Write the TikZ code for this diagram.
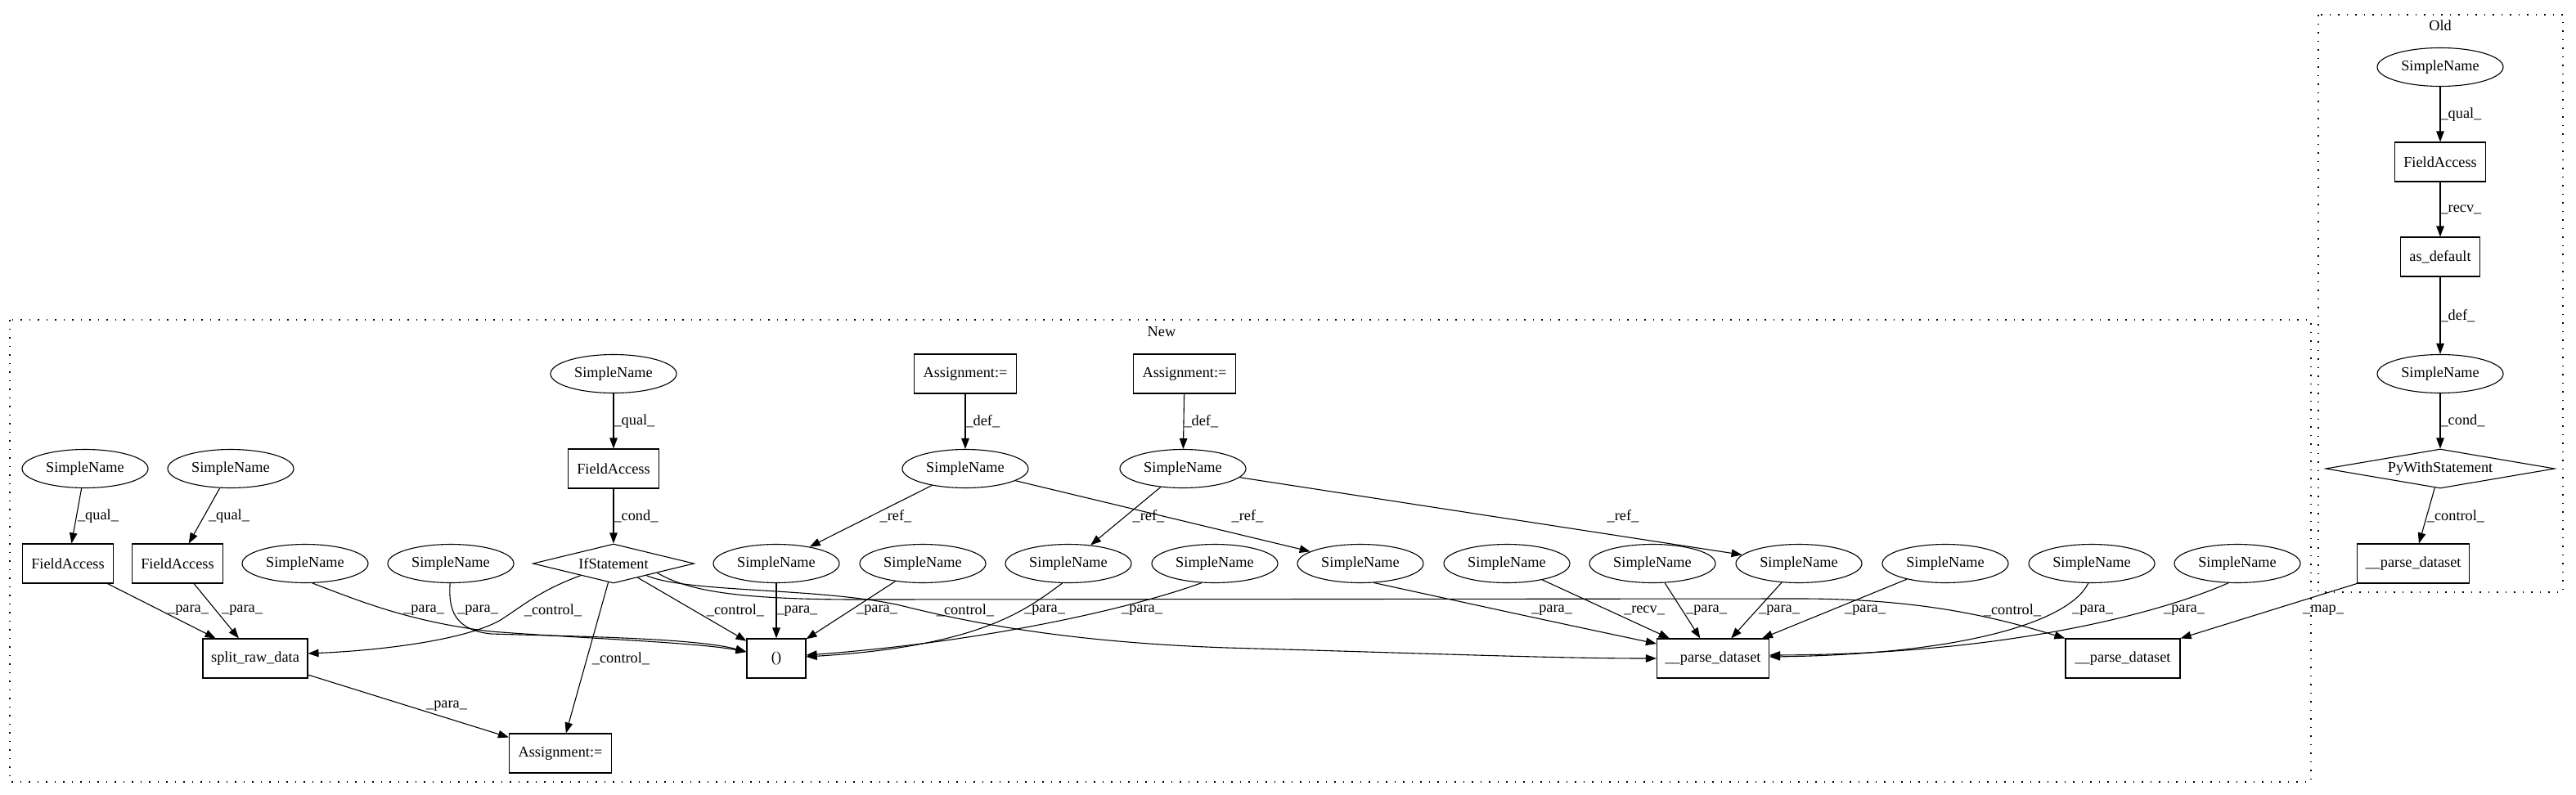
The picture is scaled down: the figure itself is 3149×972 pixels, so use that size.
\documentclass[tikz,border=0pt]{standalone}
\usepackage{fontspec}
\setmainfont{Liberation Serif}
\usetikzlibrary{shapes.geometric,arrows.meta}
\begin{document}
\begin{tikzpicture}[x=1pt,y=-1pt,
  every node/.style={font=\fontsize{18.3}{22}\selectfont},
  sn/.style={draw,ellipse,minimum width=154pt,minimum height=47pt,inner sep=0pt,line width=1.1pt},
  bx/.style={draw,rectangle,minimum height=48pt,inner sep=0pt,line width=1.1pt},
  dm/.style={draw,diamond,inner sep=0pt,minimum height=48pt,line width=1.1pt},
  lbl/.style={inner sep=0pt},
  edge/.style={-{Triangle[length=13pt,width=9.5pt]},line width=1.1pt},
  cluster/.style={line width=1.5pt,dash pattern=on 1.5pt off 9pt}
]
\useasboundingbox (0,0) rectangle (3149,972);
% clusters
\draw[cluster] (12,391) rectangle (2825,956);
\node[lbl] (newlab) at (1420,406) {New};
\draw[cluster] (2834,18) rectangle (3133,724);
\node[lbl] (oldlab) at (2983,31) {Old};

% Old nodes
\node[sn] (o1) at (2983,82) {SimpleName};
\node[bx,minimum width=111pt] (ofa) at (2983,198) {FieldAccess};
\node[bx,minimum width=97pt] (oad) at (2983,314) {as\_default};
\node[sn] (o2) at (2983,457) {SimpleName};
\node[dm,minimum width=280pt,shape aspect=5.8] (opw) at (2983,573) {PyWithStatement};
\node[bx,minimum width=137pt] (opd) at (2950,689) {\_\_parse\_dataset};

% New nodes
\node[sn] (s1) at (104,573) {SimpleName};
\node[sn] (s2) at (282,573) {SimpleName};
\node[bx,minimum width=111pt] (fa1) at (83,689) {FieldAccess};
\node[bx,minimum width=111pt] (fa2) at (217,689) {FieldAccess};
\node[sn] (sa) at (373,689) {SimpleName};
\node[sn] (sb) at (551,689) {SimpleName};
\node[sn] (st) at (750,457) {SimpleName};
\node[bx,minimum width=111pt] (fat) at (750,573) {FieldAccess};
\node[dm,minimum width=197pt,shape aspect=4.1] (if) at (750,689) {IfStatement};
\node[bx,minimum width=128pt] (split) at (312,805) {split\_raw\_data};
\node[bx,minimum width=125pt] (asb) at (685,921) {Assignment:=};
\node[bx,minimum width=125pt] (a1) at (1180,457) {Assignment:=};
\node[bx,minimum width=125pt] (a2) at (1448,457) {Assignment:=};
\node[sn] (d1) at (1180,573) {SimpleName};
\node[sn] (d2) at (1446,573) {SimpleName};
\node[sn] (c) at (949,689) {SimpleName};
\node[sn] (d) at (1128,689) {SimpleName};
\node[sn] (e) at (1306,689) {SimpleName};
\node[sn] (f) at (1485,689) {SimpleName};
\node[sn] (h) at (1663,689) {SimpleName};
\node[sn] (i) at (1842,689) {SimpleName};
\node[sn] (j) at (2020,689) {SimpleName};
\node[sn] (k) at (2199,689) {SimpleName};
\node[sn] (l) at (2378,689) {SimpleName};
\node[sn] (m) at (2557,689) {SimpleName};
\node[sn] (n) at (2735,689) {SimpleName};
\node[bx,minimum width=72pt] (call) at (949,805) {()};
\node[bx,minimum width=137pt] (pd) at (2094,805) {\_\_parse\_dataset};
\node[bx,minimum width=140pt] (pd2) at (2595,805) {\_\_parse\_dataset};

% Old edges
\draw[edge] (o1) -- node[lbl,right]{\_qual\_} (ofa);
\draw[edge] (ofa) -- node[lbl,right]{\_recv\_} (oad);
\draw[edge] (oad) -- node[lbl,right]{\_def\_} (o2);
\draw[edge] (o2) -- node[lbl,right]{\_cond\_} (opw);
\draw[edge] (opw) -- (opd);
\node[lbl] (lb1) at (3002,631) {\_control\_};
\draw[edge] (opd.south west) -- (pd2.north east);
\node[lbl] (lb2) at (2840,746) {\_map\_};

% New edges
\draw[edge] (st) -- node[lbl,right]{\_qual\_} (fat);
\draw[edge] (fat) -- node[lbl,right]{\_cond\_} (if);
\draw[edge] (s1) -- (fa1);
\node[lbl] (lb3) at (120,631) {\_qual\_};
\draw[edge] (s2) -- (fa2);
\node[lbl] (lb4) at (280,631) {\_qual\_};
\draw[edge] (fa1) -- (split);
\node[lbl] (lb5) at (230,746) {\_para\_};
\draw[edge] (fa2) -- (split);
\node[lbl] (lb6) at (296,746) {\_para\_};
\draw[edge] (split) -- (asb);
\node[lbl] (lb7) at (546,863) {\_para\_};
\draw[edge] (if) -- (asb);
\node[lbl] (lb8) at (759,805) {\_control\_};
\draw[edge] (if.-160) .. controls (660,722) and (640,740) .. (612,758) .. controls (570,782) and (470,795) .. ([yshift=6pt]split.east);
\node[lbl] (lb9) at (676,746) {\_control\_};
\draw[edge] (if) -- (call);
\node[lbl] (lb10) at (899,746) {\_control\_};
\draw[edge] (sa.-70) .. controls (440,735) and (500,760) .. (600,772) .. controls (700,780) and (850,785) .. ([yshift=8pt]call.west);
\node[lbl] (lb11) at (518,746) {\_para\_};
\draw[edge] (sb.-92) .. controls (548,745) and (555,770) .. (600,775) .. controls (700,778) and (850,780) .. ([yshift=8pt]call.west);
\node[lbl] (lb12) at (584,746) {\_para\_};
\draw[edge] (c) -- node[lbl,right]{\_para\_} (call);
\draw[edge] (d) -- (call);
\node[lbl] (lb13) at (1072,746) {\_para\_};
\draw[edge] (e.-107) .. controls (1255,745) and (1200,790) .. ([yshift=2pt]call.east);
\node[lbl] (lb14) at (1277,746) {\_para\_};
\draw[edge] (f.-124) .. controls (1380,745) and (1200,785) .. ([yshift=4pt]call.east);
\node[lbl] (lb15) at (1396,746) {\_para\_};
\draw[edge] (if.-20) .. controls (840,725) and (1000,718) .. (1100,740) .. controls (1180,760) and (1300,785) .. (1500,792) .. controls (1750,799) and (1900,805) .. (pd.west);
\node[lbl] (lb16) at (1180,746) {\_control\_};
\draw[edge] (if.-12) .. controls (840,722) and (900,733) .. (1050,733) -- (2200,732) .. controls (2350,732) and (2440,755) .. (pd2.north west);
\node[lbl] (lb17) at (2460,746) {\_control\_};
\draw[edge] (a1) -- node[lbl,right]{\_def\_} (d1);
\draw[edge] (a2) -- node[lbl,right]{\_def\_} (d2);
\draw[edge] (d1) -- (c);
\node[lbl] (lb18) at (1095,631) {\_ref\_};
\draw[edge] (d1) -- (h);
\node[lbl] (lb19) at (1525,631) {\_ref\_};
\draw[edge] (d2) -- (e);
\node[lbl] (lb20) at (1404,631) {\_ref\_};
\draw[edge] (d2) -- (k);
\node[lbl] (lb21) at (1984,631) {\_ref\_};
\draw[edge] (h.-55) .. controls (1760,730) and (1850,750) .. ([yshift=18pt]pd.west);
\node[lbl] (lb22) at (1897,746) {\_para\_};
\draw[edge] (i) -- (pd);
\node[lbl] (lb23) at (2010,746) {\_recv\_};
\draw[edge] (j) -- (pd);
\node[lbl] (lb24) at (2086,746) {\_para\_};
\draw[edge] (k) -- (pd);
\node[lbl] (lb25) at (2175,746) {\_para\_};
\draw[edge] (l) -- (pd);
\node[lbl] (lb26) at (2280,746) {\_para\_};
\draw[edge] (m.-100) .. controls (2530,760) and (2400,800) .. ([yshift=2pt]pd.east);
\node[lbl] (lb27) at (2558,746) {\_para\_};
\draw[edge] (n.-115) .. controls (2640,750) and (2450,800) .. ([yshift=4pt]pd.east);
\node[lbl] (lb28) at (2670,746) {\_para\_};
\end{tikzpicture}
\end{document}
